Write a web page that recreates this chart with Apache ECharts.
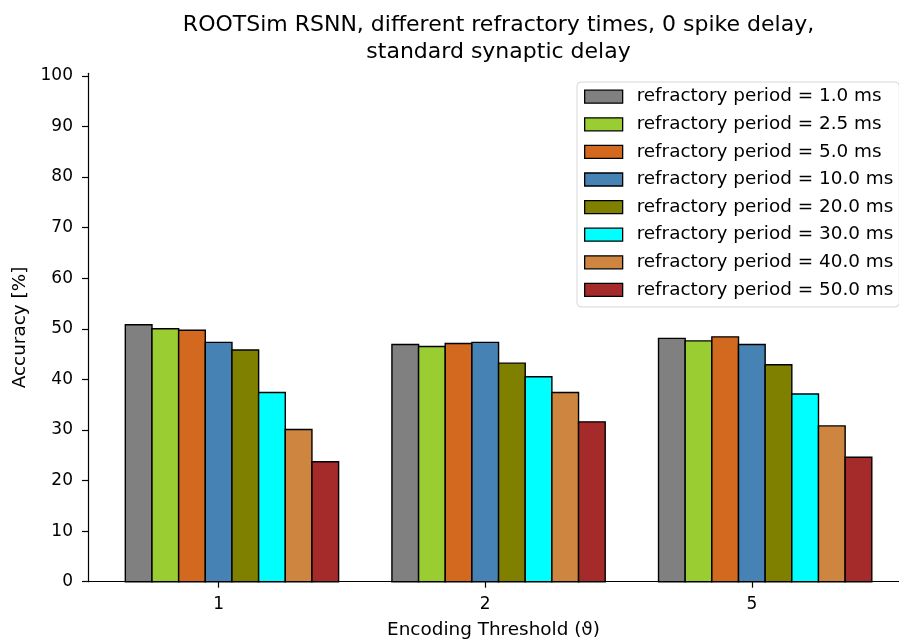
<!DOCTYPE html>
<html>
<head>
<meta charset="utf-8">
<script src="https://cdn.jsdelivr.net/npm/echarts@6/dist/echarts.min.js"></script>
<style>
  html, body { margin: 0; padding: 0; background: #fff; }
  #chart { width: 899px; height: 639px; }
</style>
</head>
<body>
<div id="chart"></div>
<script>
// Encoding thresholds shown on the x axis
const thresholds = ['1', '2', '5'];
const yTicks = [0, 10, 20, 30, 40, 50, 60, 70, 80, 90, 100];

// Refractory periods (one bar series each)
const periods = ['1.0', '2.5', '5.0', '10.0', '20.0', '30.0', '40.0', '50.0'];
const colors = ['#808080', '#9acd32', '#d2691e', '#4682b4', '#808000', '#00ffff', '#cd853f', '#a52a2a'];

// Accuracy [%] per threshold, one array per refractory period
const acc_1_0  = [50.8, 46.9, 48.1];
const acc_2_5  = [50.0, 46.5, 47.6];
const acc_5_0  = [49.7, 47.1, 48.4];
const acc_10_0 = [47.3, 47.3, 46.9];
const acc_20_0 = [45.8, 43.2, 42.9];
const acc_30_0 = [37.4, 40.5, 37.1];
const acc_40_0 = [30.1, 37.4, 30.8];
const acc_50_0 = [23.7, 31.6, 24.6];
const accuracy = [acc_1_0, acc_2_5, acc_5_0, acc_10_0, acc_20_0, acc_30_0, acc_40_0, acc_50_0];

const BAR_W = 0.1;          // bar width in x-axis units
const FONT = 'DejaVu Sans';

const chart = echarts.init(document.getElementById('chart'), null, { renderer: 'canvas' });

const series = periods.map((p, k) => ({
  type: 'custom',
  name: 'refractory period = ' + p + ' ms',
  color: colors[k],
  data: accuracy[k].map((v, i) => [i, v]),
  encode: { x: 0, y: 1 },
  clip: false,
  renderItem: function (params, api) {
    const center = api.value(0) - 0.3 + k * BAR_W;
    const topLeft = api.coord([center - BAR_W / 2, api.value(1)]);
    const botRight = api.coord([center + BAR_W / 2, 0]);
    return {
      type: 'rect',
      shape: {
        x: topLeft[0], y: topLeft[1],
        width: botRight[0] - topLeft[0],
        height: botRight[1] - topLeft[1]
      },
      style: { fill: colors[k], stroke: '#000', lineWidth: 1.4 }
    };
  }
}));

const option = {
  animation: false,
  backgroundColor: '#fff',
  textStyle: { fontFamily: FONT },
  title: {
    text: 'ROOTSim RSNN, different refractory times, 0 spike delay,\nstandard synaptic delay',
    left: 498.5,
    top: 11.5,
    padding: 0,
    textAlign: 'center',
    textStyle: { fontFamily: FONT, fontSize: 22, fontWeight: 'normal', color: '#000', lineHeight: 27 }
  },
  legend: {
    orient: 'vertical',
    left: 577,
    top: 82,
    padding: [5.7, 6, 8, 7],
    itemWidth: 38,
    itemHeight: 13,
    itemGap: 9.6,
    icon: 'rect',
    backgroundColor: '#fff',
    borderColor: '#d6d6d6',
    borderWidth: 1,
    borderRadius: 4,
    textStyle: { fontFamily: FONT, fontSize: 18.4, lineHeight: 18, color: '#000', padding: [0, 0, 0, 9] },
    data: periods.map((p, k) => ({
      name: 'refractory period = ' + p + ' ms',
      itemStyle: { color: colors[k], borderColor: '#000', borderWidth: 1.3 }
    }))
  },
  grid: { left: 88, top: 73.3, right: 0, height: 508.4, containLabel: false, outerBoundsMode: 'none' },
  xAxis: {
    type: 'value',
    min: -0.49,
    max: 2.552,
    name: 'Encoding Threshold (\u03d1)',
    nameLocation: 'middle',
    nameGap: 40,
    nameTextStyle: { fontFamily: FONT, fontSize: 18.4, color: '#000' },
    splitLine: { show: false },
    axisLine: { onZero: false, lineStyle: { color: '#000', width: 1.2 } },
    axisTick: { customValues: [0, 1, 2], length: 6, lineStyle: { color: '#000', width: 1.2 } },
    axisLabel: {
      customValues: [0, 1, 2],
      margin: 14,
      fontFamily: FONT, fontSize: 17, color: '#000',
      formatter: v => thresholds[Math.round(v)]
    }
  },
  yAxis: {
    type: 'value',
    min: 0,
    max: 100.5,
    name: 'Accuracy [%]',
    nameLocation: 'middle',
    nameGap: 54,
    nameTextStyle: { fontFamily: FONT, fontSize: 18.4, color: '#000' },
    splitLine: { show: false },
    axisLine: { show: true, onZero: false, lineStyle: { color: '#000', width: 1.2 } },
    axisTick: { show: true, customValues: yTicks, length: 6, lineStyle: { color: '#000', width: 1.2 } },
    axisLabel: {
      customValues: yTicks,
      margin: 15,
      fontFamily: FONT, fontSize: 17, color: '#000'
    }
  },
  series: series
};

chart.setOption(option);
</script>
</body>
</html>
